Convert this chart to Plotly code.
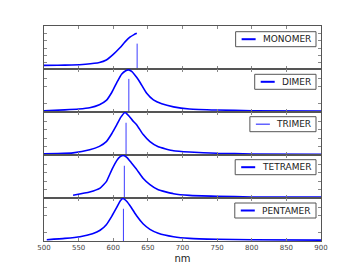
import plotly.graph_objects as go
from plotly.subplots import make_subplots

# ---- data ----
names = ["MONOMER", "DIMER", "TRIMER", "TETRAMER", "PENTAMER"]

mono_x = [500, 520, 540, 560, 580, 590, 600, 610, 617, 624, 630, 634]
mono_y = [0.085, 0.088, 0.093, 0.11, 0.15, 0.21, 0.34, 0.50, 0.63, 0.74, 0.80, 0.83]

dimer_x = [500, 530, 550, 566, 580, 590, 598, 605, 612, 618, 622, 627, 634, 639, 648, 658, 670, 687, 710, 750, 800, 900]
dimer_y = [0.03, 0.05, 0.07, 0.10, 0.17, 0.27, 0.46, 0.68, 0.88, 0.96, 0.98, 0.94, 0.80, 0.68, 0.44, 0.28, 0.19, 0.12, 0.07, 0.045, 0.03, 0.02]

trimer_x = [500, 520, 542, 566, 580, 590, 598, 605, 611, 617, 623, 628, 634, 643, 653, 665, 687, 710, 750, 800, 900]
trimer_y = [0.03, 0.035, 0.05, 0.12, 0.20, 0.31, 0.50, 0.70, 0.88, 0.99, 0.90, 0.80, 0.70, 0.48, 0.31, 0.19, 0.10, 0.07, 0.04, 0.025, 0.015]

tetra_x = [542, 566, 581, 590, 598, 605, 610, 614.5, 620, 626, 634, 643, 653, 665, 687, 710, 750, 800, 900]
tetra_y = [0.063, 0.14, 0.23, 0.38, 0.66, 0.87, 0.96, 0.99, 0.94, 0.82, 0.66, 0.46, 0.31, 0.19, 0.10, 0.06, 0.04, 0.025, 0.02]

penta_x = [504, 530, 552, 570, 581, 590, 598, 605, 610, 614, 619, 626, 634, 643, 653, 665, 687, 710, 750, 800, 900]
penta_y = [0.03, 0.06, 0.10, 0.17, 0.25, 0.38, 0.58, 0.78, 0.93, 0.99, 0.93, 0.78, 0.58, 0.40, 0.27, 0.18, 0.10, 0.06, 0.04, 0.03, 0.02]

curves_x = [mono_x, dimer_x, trimer_x, tetra_x, penta_x]
curves_y = [mono_y, dimer_y, trimer_y, tetra_y, penta_y]

stick_x = [634.5, 622.5, 618.5, 616, 614.7]
stick_h = [0.59, 0.77, 0.75, 0.75, 0.75]

ytick_sets = [
    [0.14, 0.31, 0.48, 0.66, 0.83],
    [0.19, 0.60, 0.79],
    [0.19, 0.39, 0.60, 0.79],
    [0.19, 0.39, 0.60, 0.79],
    [0.19, 0.60, 0.79],
]

xticks = [500, 550, 600, 650, 700, 750, 800, 850, 900]

# ---- figure ----
# the page body has an 8px default margin; compensate so the plot lands where the reference has it
BODY = 8
W, H = 357, 268
ML, MR, MT, MB = 44, 36, 26, 27
PW, PH = W - ML - MR, H - MT - MB

fig = make_subplots(rows=5, cols=1, shared_xaxes=True, vertical_spacing=0)

curve_color = "#0000ff"
stick_color = "#3b3bff"
frame = "#555555"

for i in range(5):
    r = i + 1
    fig.add_trace(go.Scatter(x=curves_x[i], y=curves_y[i], mode="lines",
                             line=dict(color=curve_color, width=1.6, shape="spline", smoothing=0.4),
                             showlegend=False, hoverinfo="skip"), row=r, col=1)
    fig.add_trace(go.Scatter(x=[stick_x[i], stick_x[i]], y=[0, stick_h[i]], mode="lines",
                             line=dict(color=stick_color, width=1),
                             showlegend=False, hoverinfo="skip"), row=r, col=1)
    fig.update_yaxes(range=[0, 1], tickvals=ytick_sets[i], ticks="inside", ticklen=3,
                     tickcolor="#888888", showticklabels=False, showgrid=False, zeroline=False,
                     showline=True, linecolor=frame, linewidth=1, mirror="ticks",
                     fixedrange=True, automargin=False, row=r, col=1)
    fig.update_xaxes(range=[500, 900], tickvals=xticks, ticks="inside", ticklen=3,
                     tickcolor="#888888", showgrid=False, zeroline=False,
                     showline=True, linecolor=frame, linewidth=1, mirror="ticks",
                     automargin=False,
                     showticklabels=(r == 5), tickfont=dict(size=7, color="#444444",
                                                          family="DejaVu Sans"),
                     row=r, col=1)

fig.update_xaxes(title=dict(text="nm", font=dict(size=10, color="#222222", family="DejaVu Sans"),
                            standoff=3), row=5, col=1)

# ---- per-panel legend boxes ----
cw = {"M": .863, "O": .787, "N": .748, "E": .632, "R": .695, "D": .770, "I": .295,
      "T": .611, "A": .684, "P": .603}
fs = 9
panel_h = PH / 5
box_off = [5.7, 5.3, 4.7, 4.7, 5.0]
shapes, annots = [], []
def px2x(px):
    return (px - ML) / PW
def py2y(py):
    return (MT + PH - py) / PH
for i, nm in enumerate(names):
    tw = sum(cw[c] for c in nm) * fs
    right_text = ML + PW - 8
    left = right_text - tw - 29
    top = MT + i * panel_h + box_off[i]
    bot = top + 15
    cy = (top + bot) / 2
    shapes.append(dict(type="rect", xref="paper", yref="paper",
                       x0=px2x(left), x1=px2x(ML + PW - 5), y0=py2y(bot), y1=py2y(top),
                       line=dict(color="#555555", width=1), fillcolor="white", layer="above"))
    lw = 1.2 if nm == "TRIMER" else 2
    lc = stick_color if nm == "TRIMER" else curve_color
    shapes.append(dict(type="line", xref="paper", yref="paper",
                       x0=px2x(left + 6), x1=px2x(left + 20), y0=py2y(cy), y1=py2y(cy),
                       line=dict(color=lc, width=lw), layer="above"))
    annots.append(dict(text=nm, xref="paper", yref="paper", x=px2x(right_text), y=py2y(cy),
                       xanchor="right", yanchor="middle", showarrow=False,
                       font=dict(size=fs, color="#222222", family="DejaVu Sans")))

fig.update_layout(width=W, height=H,
                  margin=dict(l=ML - BODY, r=MR + BODY, t=MT - BODY, b=MB + BODY),
                  paper_bgcolor="white", plot_bgcolor="white",
                  shapes=shapes, annotations=annots, showlegend=False,
                  font=dict(family="DejaVu Sans"))

fig.write_html("out.html")
